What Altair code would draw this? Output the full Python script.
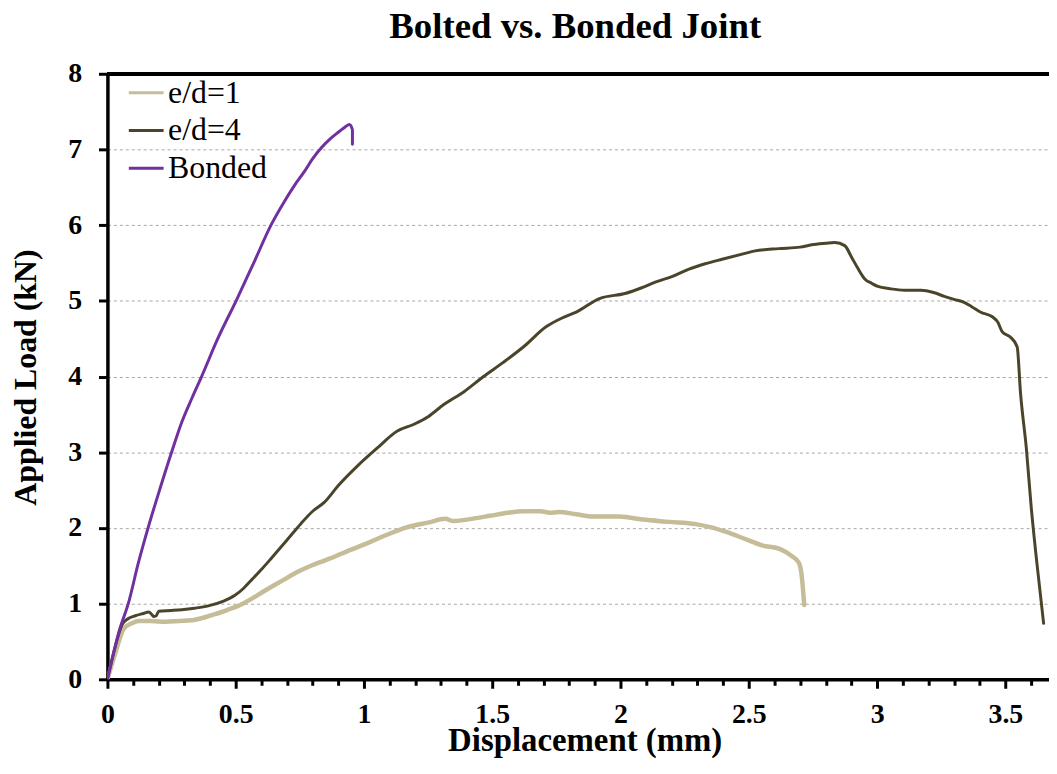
import altair as alt
import pandas as pd

series_names = ["e/d=1", "e/d=4", "Bonded"]
series_colors = ["#C4BD97", "#4A452A", "#7030A0"]
series_widths = [4.5, 3, 3]

ed1_x = [0, 0.032, 0.064, 0.095, 0.122, 0.17, 0.226, 0.28, 0.329, 0.38, 0.419, 0.47, 0.51,
         0.56, 0.613, 0.68, 0.742, 0.80, 0.871, 0.94, 1.014, 1.09, 1.169, 1.25, 1.317, 1.349,
         1.40, 1.492, 1.56, 1.621, 1.69, 1.724, 1.76, 1.827, 1.892, 1.995, 2.086, 2.189, 2.293,
         2.35, 2.409, 2.474, 2.551, 2.622, 2.667, 2.695, 2.706, 2.712, 2.716]
ed1_y = [0, 0.36, 0.67, 0.74, 0.77, 0.77, 0.76, 0.77, 0.78, 0.82, 0.86, 0.92, 0.97,
         1.06, 1.17, 1.30, 1.42, 1.51, 1.60, 1.70, 1.80, 1.91, 2.01, 2.07, 2.12, 2.09,
         2.11, 2.16, 2.20, 2.22, 2.22, 2.20, 2.21, 2.18, 2.15, 2.15, 2.11, 2.08, 2.05,
         2.01, 1.95, 1.87, 1.77, 1.72, 1.63, 1.54, 1.37, 1.15, 0.98]

ed4_x = [0, 0.025, 0.057, 0.08, 0.109, 0.14, 0.161, 0.172, 0.18, 0.19, 0.20, 0.25, 0.29, 0.34,
         0.393, 0.45, 0.497, 0.53, 0.561, 0.60, 0.639, 0.70, 0.755, 0.80, 0.846, 0.90, 0.975,
         1.05, 1.130, 1.195, 1.25, 1.311, 1.39, 1.466, 1.54, 1.621, 1.711, 1.77, 1.827, 1.918,
         2.021, 2.08, 2.138, 2.20, 2.267, 2.33, 2.396, 2.489, 2.525, 2.616, 2.70, 2.745, 2.80,
         2.835, 2.874, 2.90, 2.925, 2.952, 2.98, 3.003, 3.05, 3.107, 3.171, 3.22, 3.262, 3.30,
         3.339, 3.37, 3.404, 3.449, 3.47, 3.488, 3.52, 3.546, 3.559, 3.582, 3.60, 3.621, 3.649]
ed4_y = [0, 0.36, 0.72, 0.80, 0.84, 0.87, 0.89, 0.86, 0.83, 0.84, 0.90, 0.91, 0.92, 0.94,
         0.97, 1.03, 1.11, 1.20, 1.31, 1.45, 1.60, 1.84, 2.06, 2.22, 2.34, 2.56, 2.82,
         3.05, 3.28, 3.37, 3.47, 3.63, 3.80, 4.00, 4.18, 4.39, 4.66, 4.77, 4.85, 5.03,
         5.10, 5.17, 5.25, 5.32, 5.42, 5.49, 5.55, 5.63, 5.66, 5.69, 5.71, 5.74, 5.76,
         5.77, 5.73, 5.58, 5.43, 5.29, 5.23, 5.19, 5.16, 5.14, 5.14, 5.11, 5.06, 5.02,
         4.98, 4.92, 4.85, 4.79, 4.72, 4.59, 4.52, 4.39, 3.78, 3.04, 2.30, 1.59, 0.74]

bonded_x = [0, 0.045, 0.083, 0.12, 0.161, 0.205, 0.251, 0.29, 0.33, 0.367, 0.43, 0.503, 0.57,
            0.639, 0.691, 0.73, 0.768, 0.80, 0.833, 0.865, 0.897, 0.92, 0.943, 0.955, 0.955]
bonded_y = [0, 0.63, 1.02, 1.53, 2.03, 2.52, 3.01, 3.40, 3.72, 4.00, 4.50, 5.01, 5.50,
            6.01, 6.32, 6.53, 6.71, 6.88, 7.02, 7.13, 7.22, 7.28, 7.33, 7.26, 7.07]

x_ticks = [round(i * 0.1, 1) for i in range(37)]
y_ticks = [i * 0.25 for i in range(33)]

rows = []
for name, xs, ys in [("e/d=1", ed1_x, ed1_y), ("e/d=4", ed4_x, ed4_y), ("Bonded", bonded_x, bonded_y)]:
    for i, (xv, yv) in enumerate(zip(xs, ys)):
        rows.append({"series": name, "x": xv, "y": yv, "i": i})
df = pd.DataFrame(rows)

FONT = "Liberation Serif"
x_major = "abs(datum.value*2 - round(datum.value*2)) < 0.001"
y_major = "abs(datum.value - round(datum.value)) < 0.001"

x_enc = alt.X(
    "x:Q",
    scale=alt.Scale(domain=[0, 3.67], nice=False, zero=False),
    axis=alt.Axis(
        values=x_ticks,
        title="Displacement (mm)",
        labelExpr=f"{x_major} ? toString(datum.value) : ''",
        tickSize={"condition": {"test": x_major, "value": 9}, "value": 6},
        tickWidth=3, tickColor="black",
        domainColor="black", domainWidth=3.5,
        grid=False,
        labelFont=FONT, labelFontWeight="bold", labelFontSize=28, labelColor="black",
        labelPadding=12, labelFlush=False, labelOverlap=False,
        titleFont=FONT, titleFontSize=33, titleFontWeight="bold", titleColor="black",
        titleX=480, titleY=71.5, titleBaseline="alphabetic", titleAlign="center",
    ),
)
y_enc = alt.Y(
    "y:Q",
    scale=alt.Scale(domain=[0, 8], nice=False),
    axis=alt.Axis(
        values=y_ticks,
        title="Applied Load (kN)",
        labelExpr=f"{y_major} ? toString(datum.value) : ''",
        tickSize={"condition": {"test": y_major, "value": 9}, "value": 6},
        tickWidth=3, tickColor="black",
        domainColor="black", domainWidth=3.5,
        grid=True, gridColor="#a6a6a6", gridWidth=1, gridDash=[3, 3],
        gridOpacity={"condition": {"test": f"{y_major} && datum.value > 0.5 && datum.value < 7.5", "value": 1}, "value": 0},
        labelFont=FONT, labelFontWeight="bold", labelFontSize=28, labelColor="black",
        labelPadding=17, labelFlush=False, labelOverlap=False,
        titleFont=FONT, titleFontSize=32, titleFontWeight="bold", titleColor="black",
        titleX=-82, titleY=305, titleAngle=270, titleBaseline="middle", titleAlign="center",
    ),
)
color_enc = alt.Color(
    "series:N",
    scale=alt.Scale(domain=series_names, range=series_colors),
    legend=alt.Legend(
        title=None, orient="none", legendX=20, legendY=0,
        symbolType="stroke", symbolSize=1225, symbolStrokeWidth=3,
        labelFont=FONT, labelFontSize=32, labelColor="black", labelOffset=3,
        rowPadding=3, labelLimit=400, padding=0,
    ),
)

base = alt.Chart(df)
layers = []
for name, w in zip(series_names, series_widths):
    layers.append(
        base.transform_filter(alt.datum.series == name)
        .mark_line(strokeWidth=w, strokeJoin="round", strokeCap="round", clip=True, interpolate="monotone")
        .encode(x=x_enc, y=y_enc, color=color_enc, order=alt.Order("i:Q"))
    )

border = alt.Chart(df).mark_rule(color="black", strokeWidth=3).encode(y=alt.datum(8))

chart = (
    alt.layer(*layers, border)
    .properties(
        width=947, height=609,
        autosize=alt.AutoSizeParams(type="none"),
        padding={"left": 100, "top": 64, "right": 0, "bottom": 80},
        title=alt.TitleParams(
            "Bolted vs. Bonded Joint", font=FONT, fontSize=37, fontWeight="bold",
            color="black", anchor="middle", offset=-15, baseline="alphabetic", dx=-3,
        ),
        background="white",
    )
    .configure_view(stroke=None)
)

chart.save("out.html", embed_options={"renderer": "svg", "actions": False})
